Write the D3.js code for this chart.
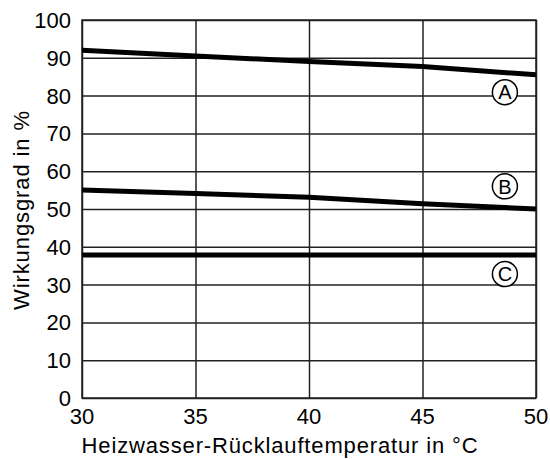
<!DOCTYPE html>
<html>
<head>
<meta charset="utf-8">
<script src="https://cdn.jsdelivr.net/npm/d3@7"></script>
<style>
  body { margin: 0; background: #fff; }
  text { font-family: "Liberation Sans", Arial, sans-serif; fill: #000; }
</style>
</head>
<body>
<svg id="svg"></svg>
<script>
// values
const temps = [30, 35, 40, 45, 50];
const curveA = [92, 90.5, 89, 87.7, 85.5];
const curveB = [55, 54.1, 53.1, 51.4, 50];
const curveC = [37.8, 37.8, 37.8, 37.8, 37.8];
const labels = ["A", "B", "C"];
const labelPos = [80.9, 56.0, 32.8];   // % where the circled letters sit
const labelTemp = 48.63;
const xTicks = [30, 35, 40, 45, 50];
const yTicks = [0, 10, 20, 30, 40, 50, 60, 70, 80, 90, 100];

const svg = d3.select("#svg").attr("width", 550).attr("height", 459);

const margin = {left: 82, right: 14, top: 20, bottom: 61};
const w = 550 - margin.left - margin.right;
const h = 459 - margin.top - margin.bottom;

const x = d3.scaleLinear().domain([30, 50]).range([margin.left, margin.left + w]);
const y = d3.scaleLinear().domain([0, 100]).range([margin.top + h, margin.top]);

// grid
svg.append("g")
    .attr("transform", `translate(0,${margin.top + h})`)
    .call(d3.axisBottom(x).tickValues(xTicks).tickSize(-h).tickFormat(""))
    .call(g => g.select(".domain").remove())
    .call(g => g.selectAll("line").attr("stroke", "#222").attr("stroke-width", 1.5));

svg.append("g")
    .attr("transform", `translate(${margin.left},0)`)
    .call(d3.axisLeft(y).tickValues(yTicks).tickSize(-w).tickFormat(""))
    .call(g => g.select(".domain").remove())
    .call(g => g.selectAll("line").attr("stroke", "#222").attr("stroke-width", 1.5));

svg.append("rect")
    .attr("x", margin.left).attr("y", margin.top)
    .attr("width", w).attr("height", h)
    .attr("fill", "none").attr("stroke", "#222").attr("stroke-width", 1.5);

// tick labels
svg.selectAll(".ylab").data(yTicks).join("text")
    .attr("x", margin.left - 11)
    .attr("y", d => y(d))
    .attr("dy", "0.36em")
    .attr("text-anchor", "end")
    .style("font-size", "22px")
    .text(d => d);

svg.selectAll(".xlab").data(xTicks).join("text")
    .attr("x", d => x(d))
    .attr("y", margin.top + h + 26)
    .attr("text-anchor", "middle")
    .style("font-size", "22px")
    .text(d => d);

svg.append("text")
    .attr("x", 280)
    .attr("y", 453)
    .attr("text-anchor", "middle")
    .style("font-size", "22px")
    .style("letter-spacing", "0.85px")
    .text("Heizwasser-Rücklauftemperatur in °C");

svg.append("text")
    .attr("transform", "translate(29,210) rotate(-90)")
    .attr("text-anchor", "middle")
    .style("font-size", "22px")
    .style("letter-spacing", "0.9px")
    .text("Wirkungsgrad in %");

// curves
const line = d3.line().x((d, i) => x(temps[i])).y(d => y(d));
[curveA, curveB, curveC].forEach(c => {
    svg.append("path")
        .attr("d", line(c))
        .attr("fill", "none")
        .attr("stroke", "#000")
        .attr("stroke-width", 5);
});

// circled letters
const mark = svg.selectAll(".mark").data(labels).join("g")
    .attr("transform", (d, i) => `translate(${x(labelTemp)},${y(labelPos[i])})`);
mark.append("circle")
    .attr("r", 12.5)
    .attr("fill", "#fff")
    .attr("stroke", "#000")
    .attr("stroke-width", 1.5);
mark.append("text")
    .attr("text-anchor", "middle")
    .attr("dy", "0.36em")
    .style("font-size", "20px")
    .text(d => d);
</script>
</body>
</html>
